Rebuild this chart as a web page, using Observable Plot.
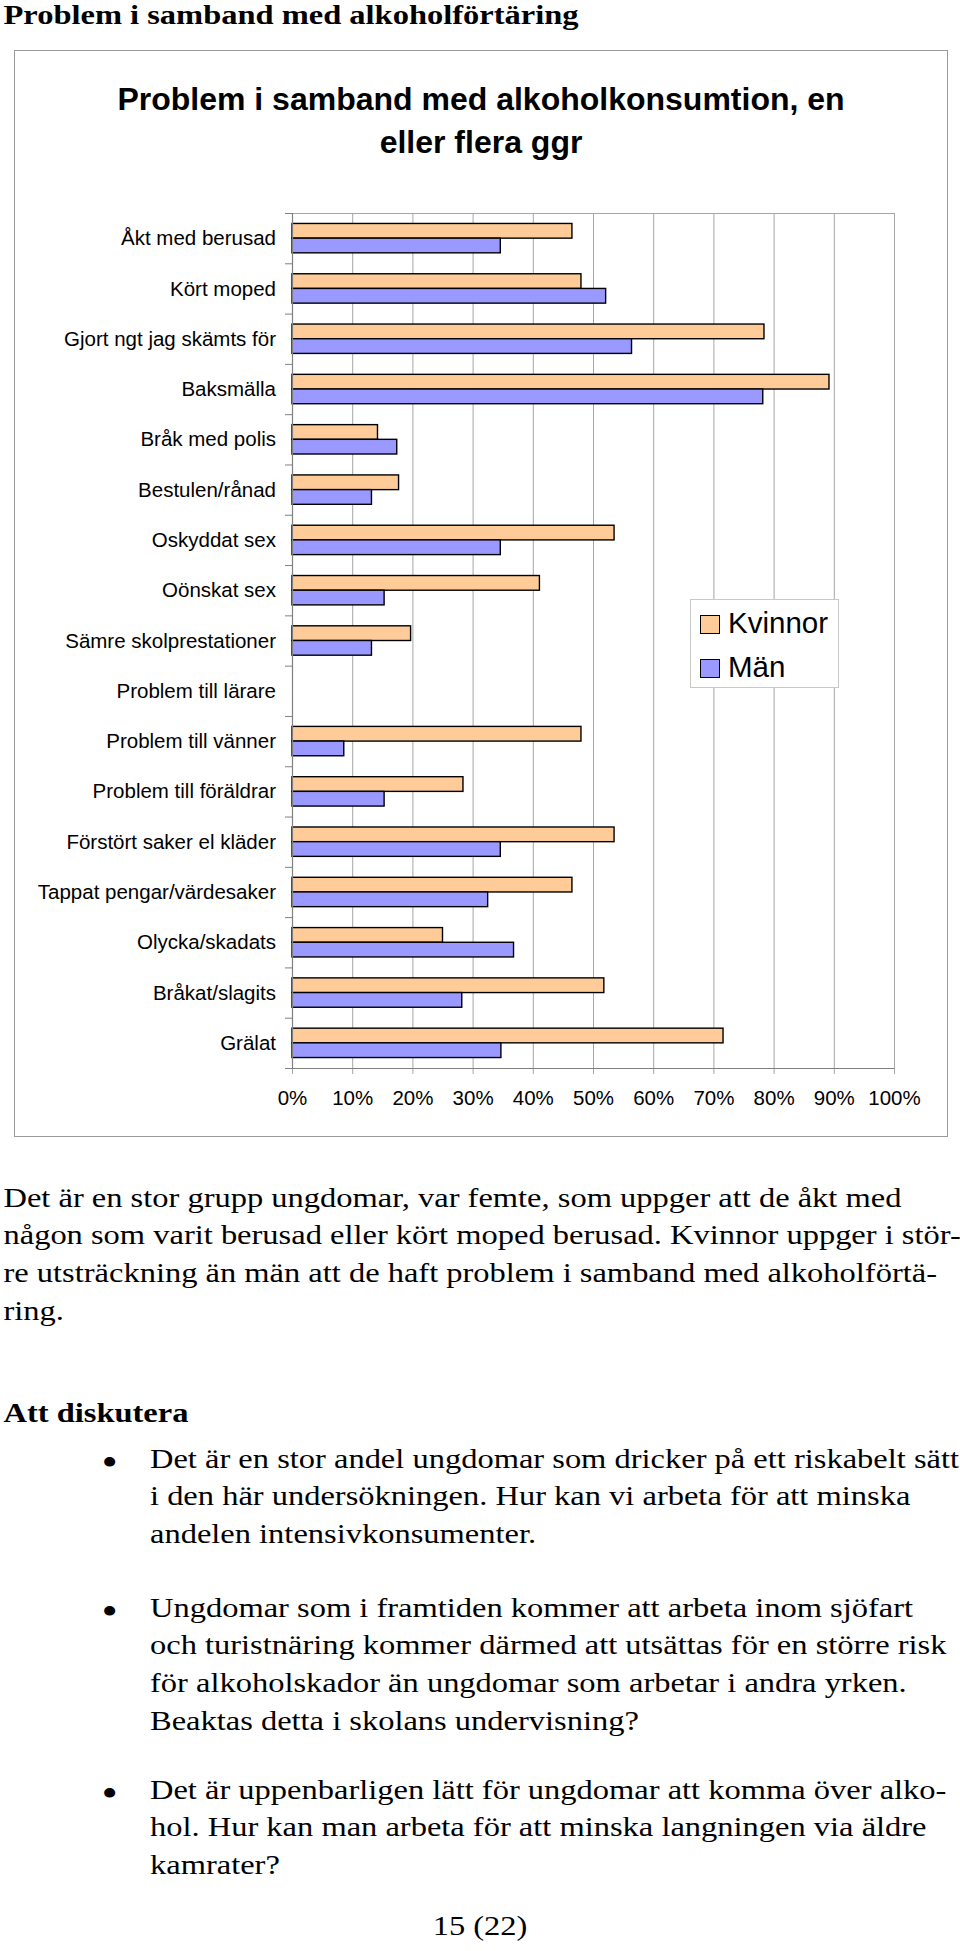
<!DOCTYPE html>
<html>
<head>
<meta charset="utf-8">
<script src="https://cdn.jsdelivr.net/npm/d3@7"></script>
<script src="https://cdn.jsdelivr.net/npm/@observablehq/plot@0.6"></script>
<style>
html, body { margin: 0; padding: 0; background: #fff; }
#page { position: relative; width: 960px; height: 1951px; overflow: hidden; background: #fff; }
#serif { position: absolute; left: 0; top: 0; width: 827.6px; height: 1951px;
  transform: scaleX(1.16); transform-origin: 0 0;
  font-family: "Liberation Serif", "Times New Roman", serif; font-size: 28px; line-height: 37.8px; color: #000; }
#serif .blk { position: absolute; white-space: nowrap; }
#serif .bullet { position: absolute; left: 87.5px; font-size: 40px; }
#chartbox { position: absolute; left: 14px; top: 50px; width: 934px; height: 1087px;
  border: 1.5px solid #9a9a9a; box-sizing: border-box; background: #fff; }
#charttitle { position: absolute; left: 14px; top: 78.4px; width: 934px; text-align: center;
  font-family: "Liberation Sans", Arial, sans-serif; font-weight: bold; font-size: 32px; line-height: 43px; color: #000; }
#plot { position: absolute; left: 0; top: 200px; }
.legbox { position: absolute; left: 690px; top: 599px; width: 149px; height: 89px;
  border: 1px solid #c8c8c8; background: #fff; box-sizing: border-box; }
.legsw { position: absolute; width: 20px; height: 19px; box-sizing: border-box; border: 1.5px solid #000; }
.legtx { position: absolute; font-family: "Liberation Sans", Arial, sans-serif; font-size: 29.5px; line-height: 29px; color: #000; white-space: nowrap; }
</style>
</head>
<body>
<div id="page">
  <div id="chartbox"></div>
  <div id="charttitle">Problem i samband med alkoholkonsumtion, en<br>eller flera ggr</div>
  <div id="serif">
    <div class="blk" style="top:-4.35px;left:3px;font-weight:bold;">Problem i samband med alkoholförtäring</div>
    <div class="blk" style="top:1178.6px;left:3px;">Det är en stor grupp ungdomar, var femte, som uppger att de åkt med<br>någon som varit berusad eller kört moped berusad. Kvinnor uppger i stör-<br>re utsträckning än män att de haft problem i samband med alkoholförtä-<br>ring.</div>
    <div class="blk" style="top:1393.6px;left:3px;font-weight:bold;">Att diskutera</div>
    <div class="bullet" style="top:1443.6px;">•</div>
    <div class="blk" style="top:1439.6px;left:129.3px;">Det är en stor andel ungdomar som dricker på ett riskabelt sätt<br>i den här undersökningen. Hur kan vi arbeta för att minska<br>andelen intensivkonsumenter.</div>
    <div class="bullet" style="top:1592.6px;">•</div>
    <div class="blk" style="top:1588.6px;left:129.3px;">Ungdomar som i framtiden kommer att arbeta inom sjöfart<br>och turistnäring kommer därmed att utsättas för en större risk<br>för alkoholskador än ungdomar som arbetar i andra yrken.<br>Beaktas detta i skolans undervisning?</div>
    <div class="bullet" style="top:1774.6px;">•</div>
    <div class="blk" style="top:1770.6px;left:129.3px;">Det är uppenbarligen lätt för ungdomar att komma över alko-<br>hol. Hur kan man arbeta för att minska langningen via äldre<br>kamrater?</div>
    <div class="blk" style="top:1906.6px;left:0;width:827.6px;text-align:center;">15 (22)</div>
  </div>
</div>
<script>
// ---- data ----
const categories = [
  "Åkt med berusad",
  "Kört moped",
  "Gjort ngt jag skämts för",
  "Baksmälla",
  "Bråk med polis",
  "Bestulen/rånad",
  "Oskyddat sex",
  "Oönskat sex",
  "Sämre skolprestationer",
  "Problem till lärare",
  "Problem till vänner",
  "Problem till föräldrar",
  "Förstört saker el kläder",
  "Tappat pengar/värdesaker",
  "Olycka/skadats",
  "Bråkat/slagits",
  "Grälat"
];
const kvinnor = [46.5, 48.0, 78.4, 89.2, 14.2, 17.7, 53.5, 41.1, 19.7, 0, 48.0, 28.4, 53.5, 46.5, 25.0, 51.8, 71.6];
const man     = [34.6, 52.1, 56.4, 78.2, 17.4, 13.2, 34.6, 15.3, 13.2, 0,  8.6, 15.3, 34.6, 32.5, 36.8, 28.2, 34.7];
const seriesNames = ["Kvinnor", "Män"];
const xTicks = [0, 10, 20, 30, 40, 50, 60, 70, 80, 90, 100];

// ---- styles ----
const seriesColors = ["#FFCC99", "#9999FF"];
const gridColor = "#a6a6a6";
const axisColor = "#808080";

// ---- layout ----
const W = 960, H = 920;
const mL = 292, mR = 66, mT = 13, mB = 52;
const plotW = W - mL - mR;
const plotH = H - mT - mB;
const padInner = 0.416;
const step = plotH / categories.length;
const bw = step * (1 - padInner);

const rows = categories.flatMap((c, i) => [
  {category: c, series: seriesNames[0], value: kvinnor[i]},
  {category: c, series: seriesNames[1], value: man[i]}
]);

const chart = Plot.plot({
  width: W, height: H,
  marginLeft: mL, marginRight: mR, marginTop: mT, marginBottom: mB,
  style: {fontFamily: "'Liberation Sans', Arial, sans-serif", fontSize: "20.5px", color: "#000", background: "transparent", overflow: "visible"},
  x: {domain: [0, 100], ticks: xTicks, tickFormat: d => d + "%", tickSize: 0, tickPadding: 22, label: null},
  y: {domain: categories, paddingInner: padInner, paddingOuter: padInner / 2, round: false, tickSize: 0, tickPadding: 16.5, label: null},
  marks: [
    Plot.tickX(xTicks, {x: d => d, stroke: gridColor, strokeWidth: 1, insetBottom: -6}),
    Plot.frame({stroke: gridColor, strokeWidth: 1}),
    Plot.barX(rows.filter(d => d.series === seriesNames[0] && d.value > 0), {
      y: "category", x: "value", fill: seriesColors[0], stroke: "#000", strokeWidth: 1.4, insetBottom: bw / 2
    }),
    Plot.barX(rows.filter(d => d.series === seriesNames[1] && d.value > 0), {
      y: "category", x: "value", fill: seriesColors[1], stroke: "#000", strokeWidth: 1.4, insetTop: bw / 2
    }),
    Plot.ruleX([0], {stroke: axisColor, strokeWidth: 1.2}),
    Plot.tickY([categories[categories.length - 1]], {y: d => d, dy: step / 2, stroke: axisColor, strokeWidth: 1.2}),
    Plot.tickY(categories, {y: d => d, dy: step / 2, stroke: axisColor, insetLeft: -7, insetRight: plotW}),
    Plot.tickY([categories[0]], {y: d => d, dy: -step / 2, stroke: axisColor, insetLeft: -7, insetRight: plotW})
  ]
});
chart.id = "plot";
const page = document.getElementById("page");
page.insertBefore(chart, document.getElementById("serif"));

// ---- legend (inside plot area, as in the reference) ----
const leg = document.createElement("div");
leg.className = "legbox";
page.appendChild(leg);
seriesNames.forEach((name, i) => {
  const sw = document.createElement("div");
  sw.className = "legsw";
  sw.style.left = "700px";
  sw.style.top = (615 + i * 43.5) + "px";
  sw.style.background = seriesColors[i];
  page.appendChild(sw);
  const tx = document.createElement("div");
  tx.className = "legtx";
  tx.style.left = "728px";
  tx.style.top = (633 + i * 43.5 - 24.55) + "px";
  tx.textContent = name;
  page.appendChild(tx);
});
</script>
</body>
</html>
